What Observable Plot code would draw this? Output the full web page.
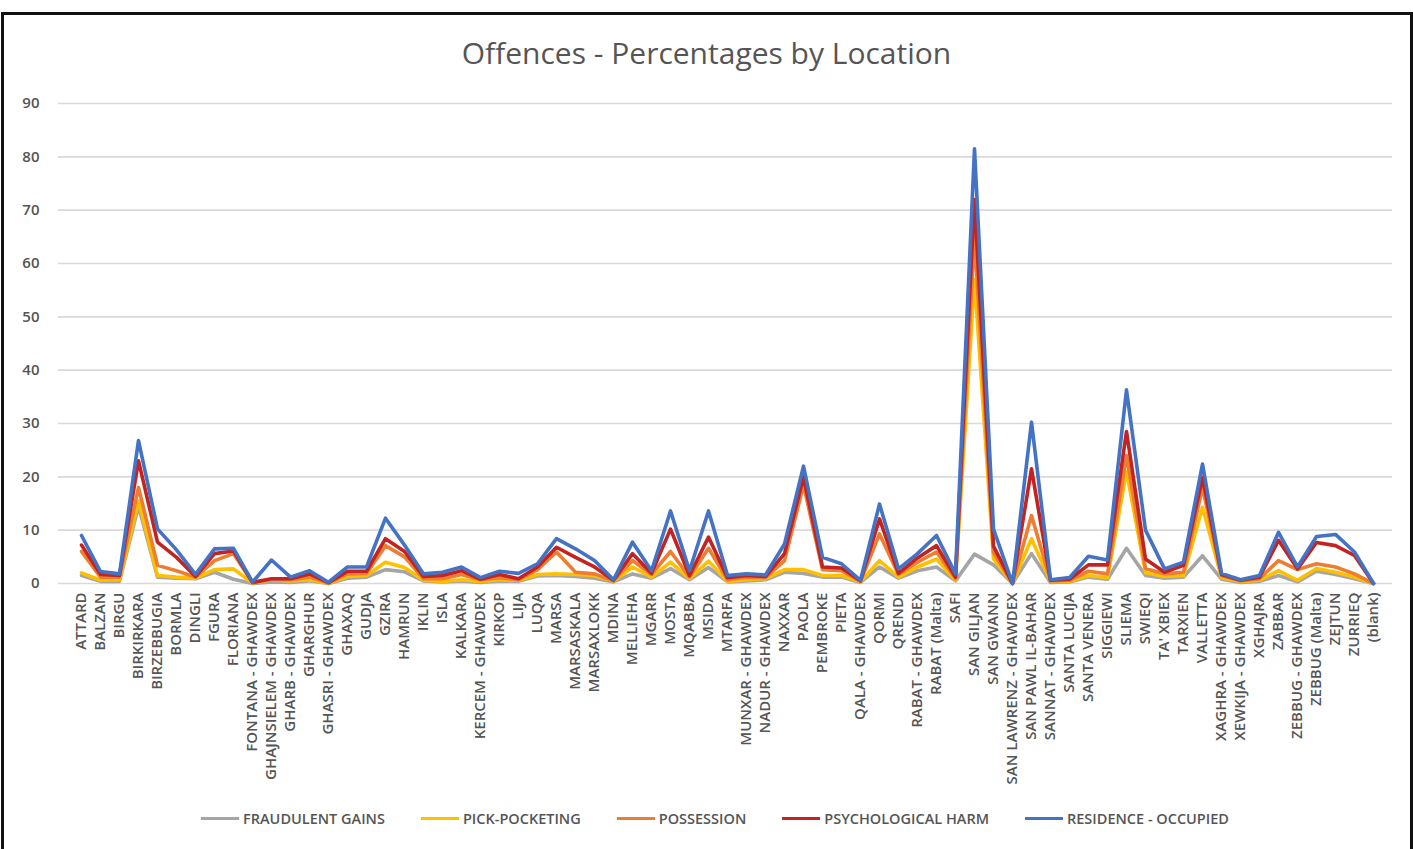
<!DOCTYPE html>
<html>
<head>
<meta charset="utf-8">
<script src="https://cdn.jsdelivr.net/npm/d3@7"></script>
<script src="https://cdn.jsdelivr.net/npm/@observablehq/plot@0.6"></script>
<style>
  html, body { margin: 0; padding: 0; background: #fff; }
  #page { position: relative; width: 1413px; height: 849px; overflow: hidden; font-family: "Open Sans", sans-serif; }
  #frame { position: absolute; left: 1px; top: 12px; width: 1406px; height: 845px; border: 3px solid #111; }
  #title { position: absolute; top: 32px; left: 0; width: 1413px; text-align: center; font-size: 30px; color: #555; }
  #chart { position: absolute; top: 80px; left: 0; }
  #legend { position: absolute; top: 809px; left: 0; width: 1430px; display: flex; justify-content: center; gap: 36px; font-size: 14.5px; font-weight: 600; color: #555; }
  .item { display: flex; align-items: center; }
  .sw { width: 38px; height: 3px; margin-right: 4px; }
</style>
</head>
<body>
<div id="page">
  <div id="frame"></div>
  <div id="title">Offences - Percentages by Location</div>
  <div id="chart"></div>
  <div id="legend"></div>
</div>
<script>
const locations = ["ATTARD","BALZAN","BIRGU","BIRKIRKARA","BIRZEBBUGIA","BORMLA","DINGLI","FGURA","FLORIANA","FONTANA - GHAWDEX",
"GHAJNSIELEM - GHAWDEX","GHARB - GHAWDEX","GHARGHUR","GHASRI - GHAWDEX","GHAXAQ","GUDJA","GZIRA","HAMRUN","IKLIN","ISLA",
"KALKARA","KERCEM - GHAWDEX","KIRKOP","LIJA","LUQA","MARSA","MARSASKALA","MARSAXLOKK","MDINA","MELLIEHA",
"MGARR","MOSTA","MQABBA","MSIDA","MTARFA","MUNXAR - GHAWDEX","NADUR - GHAWDEX","NAXXAR","PAOLA","PEMBROKE",
"PIETA","QALA - GHAWDEX","QORMI","QRENDI","RABAT - GHAWDEX","RABAT (Malta)","SAFI","SAN GILJAN","SAN GWANN","SAN LAWRENZ - GHAWDEX",
"SAN PAWL IL-BAHAR","SANNAT - GHAWDEX","SANTA LUCIJA","SANTA VENERA","SIGGIEWI","SLIEMA","SWIEQI","TA' XBIEX","TARXIEN","VALLETTA",
"XAGHRA - GHAWDEX","XEWKIJA - GHAWDEX","XGHAJRA","ZABBAR","ZEBBUG - GHAWDEX","ZEBBUG (Malta)","ZEJTUN","ZURRIEQ","(blank)"];

const fraudulentGains = [1.5,0.4,0.4,14.5,1.2,1.0,0.9,2.1,0.8,0, 0.3,0.2,0.5,0,1.0,1.2,2.6,2.2,0.5,0.3,
0.5,0.2,0.5,0.4,1.4,1.5,1.3,1.0,0.3,1.8, 1.0,2.8,0.7,3.0,0.3,0.5,0.7,2.1,1.9,1.2,
1.2,0.2,3.1,1.0,2.4,3.1,0.5,5.5,3.5,0, 5.6,0.2,0.3,1.2,0.8,6.6,1.5,1.0,1.2,5.2,
0.8,0.2,0.4,1.5,0.3,2.3,1.7,0.9,0];

const pickPocketing = [0.5,0.2,0.3,1.0,0.3,0.2,0.1,0.5,1.95,0.1, 0.4,0.3,0.2,0.05,0.3,0.3,1.4,0.8,0.1,0.1,
0.2,0.2,0.2,0.2,0.3,0.3,0.4,0.5,0.1,1.3, 0.2,1.2,0.2,1.2,0.1,0.2,0.2,0.5,0.7,0.3,
0.3,0.1,1.2,0.2,0.7,1.5,0.1,51.5,1.1,0, 2.8,0.2,0.1,0.3,0.3,14.4,0.5,0.3,0.3,9.1,
0.3,0.2,0.2,0.9,0.3,0.5,0.4,0.3,0];

const possession = [4.0,0.6,0.5,2.5,1.9,1.2,0.2,1.7,2.85,0.05, 0.1,0.2,0.5,0.05,0.5,0.4,3.1,2.0,0.3,0.5,
1.0,0.3,0.4,0.1,0.9,4.1,0.4,0.3,0.1,1.2, 0.5,2.0,0.3,2.4,0.3,0.5,0.2,1.7,15.9,1.1,
0.9,0.1,5.0,0.5,0.9,1.3,0.3,8.0,1.2,0, 4.35,0.1,0.2,0.8,0.7,3.0,0.8,0.5,0.6,3.7,
0.4,0.1,0.3,1.9,2.0,0.9,1.0,0.6,0];

const psychologicalHarm = [1.2,0.5,0.3,5.0,4.35,2.5,0.1,1.3,0.5,0.05, 0.1,0.2,0.6,0.05,0.5,0.4,1.3,1.0,0.4,0.6,
0.7,0.1,0.6,0.2,0.5,0.9,2.8,1.3,0.1,1.3, 0.2,4.2,0.3,2.1,0.4,0.3,0.2,1.3,1.5,0.5,
0.5,0.1,2.8,0.2,0.8,1.2,0.3,7.0,1.2,0, 8.75,0.1,0.2,1.2,1.7,4.5,1.8,0.3,1.3,1.9,
0.2,0.1,0.3,3.8,0.15,4.0,4.0,3.45,0];

const residenceOccupied = [1.8,0.55,0.3,3.8,2.5,1.4,0.4,0.9,0.5,0.05, 3.5,0.3,0.6,0.1,0.8,0.8,3.85,1.2,0.5,0.6,
0.7,0.3,0.6,1.0,0.6,1.6,1.6,1.2,0.1,2.15, 0.5,3.4,0.9,4.9,0.4,0.3,0.3,1.8,2.0,1.8,
0.8,0.1,2.8,0.85,0.8,1.9,0.6,9.5,3.2,0, 8.75,0.1,0.3,1.6,0.9,7.8,5.4,0.65,0.6,2.5,
0.2,0.1,0.3,1.5,0.35,1.1,2.1,0.65,0];

const seriesNames = ["FRAUDULENT GAINS","PICK-POCKETING","POSSESSION","PSYCHOLOGICAL HARM","RESIDENCE - OCCUPIED"];
const yTicks = [0,10,20,30,40,50,60,70,80,90];

const seriesValues = [fraudulentGains, pickPocketing, possession, psychologicalHarm, residenceOccupied];
const colors = ["#a5a5a5","#ffc000","#ed7d31","#c42421","#4472c4"];

const data = [];
seriesNames.forEach((s, si) => {
  locations.forEach((loc, i) => data.push({location: loc, series: s, value: seriesValues[si][i]}));
});

const chart = Plot.plot({
  width: 1413,
  height: 720,
  marginTop: 23,
  marginBottom: 217,
  marginLeft: 58,
  marginRight: 21,
  style: {fontFamily: "Open Sans, sans-serif", color: "#555", background: "transparent"},
  x: {type: "point", domain: locations, range: [66, 1387], label: null},
  y: {domain: [0, 90], label: null},
  color: {domain: seriesNames, range: colors},
  marks: [
    Plot.gridY(yTicks, {stroke: "#d9d9d9", strokeOpacity: 1, strokeWidth: 1.6}),
    Plot.axisY(yTicks, {tickSize: 0, tickPadding: 19, fontSize: 15, fontWeight: 600, fill: "#555", label: null}),
    Plot.axisX({tickSize: 0, tickPadding: 9, tickRotate: -90, fontSize: 15, fontWeight: 600, fill: "#555", label: null}),
    Plot.lineY(data, Plot.stackY2({
      x: "location", y: "value", z: "series", stroke: "series", order: seriesNames,
      strokeWidth: 3.6, strokeLinejoin: "round", strokeLinecap: "round"
    }))
  ]
});
document.getElementById("chart").appendChild(chart);

const legend = document.getElementById("legend");
seriesNames.forEach((s, i) => {
  const item = document.createElement("div");
  item.className = "item";
  const sw = document.createElement("div");
  sw.className = "sw";
  sw.style.background = colors[i];
  const t = document.createElement("span");
  t.textContent = s;
  item.appendChild(sw);
  item.appendChild(t);
  legend.appendChild(item);
});
</script>
</body>
</html>
